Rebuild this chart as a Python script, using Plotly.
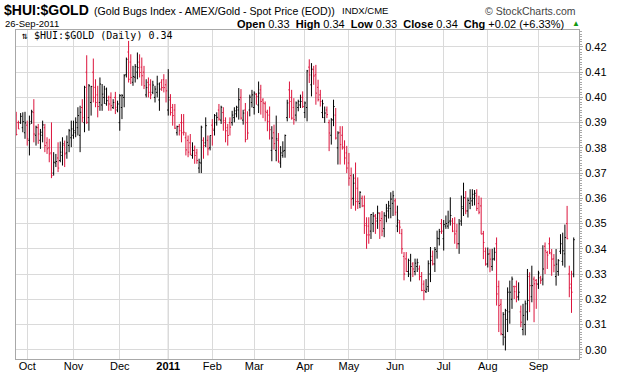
import pandas as pd
import plotly.graph_objects as go

# ---------------- data ----------------
holidays = ["2010-11-25", "2010-12-24", "2011-01-17", "2011-02-21",
            "2011-04-22", "2011-05-30", "2011-07-04", "2011-09-05"]

opens = [
    .3930, .3900, .3900, .3880, .3860,
    .3890, .3830, .3905, .3940, .3850, .3880, .3830, .3850, .3880, .3820, .3800, .3780, .3700, .3740, .3760, .3750, .3770, .3810, .3780, .3810, .3840,
    .3850, .3860, .3880, .3850, .3960, .3900, .4100, .3920, .3980, .4100, .4040, .4010, .3980, .3970, .4000, .3975, .4000, .4000, .3960, .4000, .3950,
    .3900, .3960, .4000, .4090, .4180, .4140, .4060, .4080, .4100, .4140, .4120, .4100, .4010, .4060, .4050, .4020, .4000, .4020, .3990, .4060, .4070, .4050,
    .3950, .3990, .3960, .3950, .3860, .3885, .3900, .3900, .3840, .3830, .3820, .3770, .3790, .3780, .3720, .3740, .3830, .3820, .3830, .3800,
    .3890, .3870, .3900, .3950, .3910, .3940, .3900, .3880, .3900, .3900, .3920, .3935, .3950, .4000, .3910, .3950, .3900, .3950, .3980,
    .3960, .4012, .3970, .4030, .3990, .3975, .3940, .3930, .3790, .3860, .3790, .3830, .3740, .3770, .3790, .3920, .4030, .4000, .3960, .3930, .3960, .3970, .4000,
    .3940, .3960, .4120, .4050, .4110, .4090, .4040, .4010, .3940, .3920, .3950, .3900, .3850, .3910, .3930, .3800, .3860, .3850, .3800, .3780,
    .3740, .3690, .3600, .3680, .3640, .3580, .3600, .3570, .3500, .3490, .3470, .3500, .3530, .3510, .3540, .3520, .3480, .3530, .3550, .3560, .3580,
    .3590, .3490, .3505, .3460, .3370, .3360, .3310, .3300, .3340, .3310, .3330, .3320, .3290, .3260, .3230, .3250, .3300, .3370, .3340, .3390, .3440, .3500,
    .3440, .3490, .3490, .3510, .3510, .3500, .3470, .3420, .3510, .3560, .3600, .3550, .3580, .3590, .3600, .3610, .3580, .3570, .3460, .3390,
    .3340, .3380, .3330, .3360, .3420, .3250, .3180, .3060, .3050, .3120, .3150, .3200, .3250, .3250, .3210, .3150, .3080, .3100, .3150, .3290, .3210, .3280, .3275,
    .3260, .3285, .3280, .3410, .3385, .3420, .3380, .3360, .3290, .3310, .3390, .3350, .3380, .3500, .3300, .3260, .3300,
]
highs = [
    .3943, .3908, .3938, .3941, .3943,
    .3908, .3928, .3951, .3993, .3888, .3895, .3875, .3908, .3895, .3842, .3836, .3901, .3783, .3776, .3822, .3825, .3842, .3829, .3849, .3875, .3908,
    .3908, .3921, .3961, .3967, .3993, .4046, .4167, .4053, .4046, .4154, .4072, .4046, .4079, .4053, .4046, .4039, .4007, .4020, .3993, .4022, .3987,
    .4013, .4013, .4092, .4158, .4224, .4171, .4125, .4132, .4178, .4171, .4158, .4125, .4072, .4079, .4072, .4066, .4046, .4086, .4059, .4072, .4092, .4072,
    .4112, .4013, .3974, .3974, .3888, .3895, .3934, .3934, .3862, .3849, .3855, .3822, .3809, .3796, .3757, .3888, .3842, .3921, .3849, .3849,
    .3914, .3934, .3941, .3974, .3967, .3961, .3921, .3895, .3921, .3947, .3961, .3967, .4037, .4033, .3951, .3978, .3945, .4011, .4030,
    .4024, .4017, .4063, .4050, .3997, .3984, .3951, .3964, .3886, .3892, .3928, .3859, .3807, .3826, .3853, .3991, .4063, .4030, .3997, .3984, .3991, .4011, .4024,
    .3984, .4109, .4151, .4136, .4125, .4129, .4070, .4030, .3991, .3964, .3964, .3912, .3918, .3991, .3958, .3866, .3886, .3886, .3830, .3808,
    .3780, .3722, .3696, .3742, .3683, .3628, .3611, .3611, .3525, .3525, .3538, .3545, .3538, .3571, .3545, .3550, .3545, .3578, .3590, .3624, .3630,
    .3600, .3571, .3514, .3479, .3387, .3387, .3361, .3380, .3347, .3361, .3361, .3334, .3308, .3275, .3280, .3354, .3407, .3393, .3407, .3472, .3479, .3518,
    .3514, .3532, .3551, .3604, .3522, .3525, .3499, .3518, .3611, .3662, .3629, .3603, .3636, .3636, .3633, .3636, .3610, .3603, .3471, .3405,
    .3405, .3399, .3400, .3405, .3445, .3274, .3201, .3149, .3162, .3247, .3274, .3290, .3254, .3274, .3267, .3175, .3182, .3195, .3320, .3307, .3333, .3290, .3280,
    .3313, .3293, .3414, .3425, .3392, .3445, .3399, .3379, .3399, .3359, .3458, .3464, .3496, .3570, .3333, .3313, .3445,
]
lows = [
    .3849, .3875, .3895, .3862, .3836,
    .3809, .3770, .3895, .3822, .3809, .3816, .3796, .3822, .3783, .3776, .3743, .3680, .3690, .3724, .3704, .3743, .3730, .3724, .3757, .3783, .3803,
    .3836, .3842, .3849, .3783, .3901, .3862, .3895, .3868, .3928, .3980, .3961, .3921, .3947, .3947, .3974, .3967, .3947, .3947, .3954, .3934, .3941,
    .3868, .3914, .3961, .4079, .4059, .4053, .4046, .4059, .4072, .4079, .4046, .4033, .4000, .4000, .3993, .4013, .3980, .4000, .3947, .4026, .4020, .3980,
    .3928, .3928, .3888, .3875, .3849, .3849, .3822, .3849, .3770, .3763, .3770, .3757, .3737, .3737, .3700, .3700, .3757, .3803, .3770, .3790,
    .3809, .3849, .3888, .3908, .3895, .3868, .3822, .3809, .3849, .3888, .3901, .3921, .3912, .3912, .3892, .3822, .3833, .3925, .3960,
    .3932, .3971, .3938, .3932, .3918, .3905, .3866, .3833, .3747, .3793, .3747, .3741, .3721, .3761, .3761, .3905, .3918, .3912, .3892, .3905, .3945, .3958, .3958,
    .3918, .3905, .4057, .4004, .4050, .3971, .3984, .3964, .3918, .3899, .3918, .3787, .3813, .3886, .3833, .3734, .3734, .3793, .3734, .3700,
    .3650, .3558, .3571, .3551, .3558, .3561, .3565, .3459, .3400, .3420, .3439, .3466, .3459, .3479, .3439, .3450, .3446, .3505, .3520, .3521, .3530,
    .3532, .3466, .3459, .3380, .3275, .3308, .3288, .3270, .3288, .3295, .3308, .3275, .3232, .3196, .3225, .3229, .3268, .3334, .3308, .3361, .3413, .3459,
    .3393, .3479, .3479, .3492, .3466, .3420, .3400, .3380, .3491, .3530, .3537, .3524, .3557, .3570, .3572, .3550, .3537, .3458, .3359, .3333,
    .3326, .3307, .3313, .3353, .3175, .3070, .3057, .3017, .2997, .3070, .3103, .3162, .3201, .3188, .3195, .3089, .3057, .3057, .3116, .3149, .3188, .3109, .3162,
    .3241, .3261, .3255, .3300, .3320, .3379, .3293, .3307, .3254, .3293, .3379, .3333, .3326, .3438, .3208, .3146, .3287,
]
closes = [
    .3853, .3875, .3925, .3904, .3899,
    .3836, .3895, .3943, .3855, .3882, .3855, .3862, .3891, .3809, .3796, .3776, .3690, .3743, .3746, .3720, .3783, .3816, .3776, .3822, .3868, .3875,
    .3868, .3901, .3928, .3941, .3920, .4040, .3901, .4046, .4043, .4000, .3980, .3964, .4053, .4013, .4033, .3987, .3974, .3967, .3980, .3961, .3974,
    .4007, .4007, .4086, .4151, .4072, .4079, .4083, .4122, .4118, .4099, .4086, .4046, .4039, .4020, .4010, .4049, .4033, .4053, .4033, .4039, .4039, .4026,
    .4000, .3940, .3928, .3878, .3884, .3868, .3860, .3862, .3792, .3783, .3775, .3790, .3770, .3750, .3743, .3882, .3809, .3888, .3796, .3849,
    .3875, .3928, .3921, .3914, .3961, .3908, .3868, .3849, .3882, .3930, .3947, .3961, .3991, .3918, .3938, .3833, .3859, .4001, .4010,
    .4017, .4004, .4017, .3984, .3978, .3945, .3905, .3872, .3839, .3817, .3836, .3747, .3780, .3787, .3849, .3978, .3984, .3918, .3912, .3978, .3984, .3984, .3964,
    .3978, .4105, .4089, .4112, .4085, .4017, .3991, .3984, .3975, .3938, .3932, .3859, .3912, .3964, .3839, .3859, .3813, .3804, .3760, .3720,
    .3680, .3597, .3660, .3587, .3587, .3624, .3570, .3492, .3455, .3455, .3536, .3530, .3521, .3542, .3512, .3470, .3532, .3561, .3570, .3597, .3610,
    .3545, .3514, .3486, .3400, .3300, .3310, .3354, .3330, .3320, .3343, .3345, .3290, .3235, .3235, .3240, .3341, .3354, .3340, .3397, .3442, .3468, .3470,
    .3496, .3500, .3505, .3532, .3470, .3459, .3420, .3499, .3567, .3603, .3550, .3592, .3600, .3616, .3620, .3560, .3545, .3458, .3425, .3339,
    .3379, .3359, .3359, .3386, .3221, .3175, .3063, .3140, .3155, .3228, .3228, .3280, .3230, .3208, .3228, .3109, .3136, .3182, .3195, .3254, .3254, .3261, .3261,
    .3304, .3275, .3320, .3392, .3375, .3385, .3359, .3335, .3339, .3353, .3420, .3392, .3445, .3440, .3245, .3228, .3436,
]

month_names = ["Jan", "Feb", "Mar", "Apr", "May", "Jun",
               "Jul", "Aug", "Sep", "Oct", "Nov", "Dec"]
y_ticks = [0.30, 0.31, 0.32, 0.33, 0.34, 0.35, 0.36, 0.37, 0.38, 0.39, 0.40, 0.41, 0.42]

# trading days
days = [d for d in pd.bdate_range("2010-09-24", "2011-09-26")
        if d.strftime("%Y-%m-%d") not in holidays]
dates = [d.strftime("%Y-%m-%d") for d in days]
n = min(len(dates), len(closes))
dates = dates[:n]

tickvals, ticktext = [], []
for k in range(1, n):
    if days[k].month != days[k - 1].month:
        tickvals.append(dates[k])
        if days[k].month == 1:
            ticktext.append("<b>%d</b>" % days[k].year)
        else:
            ticktext.append(month_names[days[k].month - 1])
jan_idx = [k for k in range(1, n) if days[k].month == 1 and days[k - 1].month == 12][0]

# ---------------- figure ----------------
W, H = 620, 376
L, R, T, B = 16, 579, 30, 359
fig = go.Figure()
fig.add_trace(go.Ohlc(
    x=dates, open=opens[:n], high=highs[:n], low=lows[:n], close=closes[:n],
    increasing=dict(line=dict(color="#000000", width=1)),
    decreasing=dict(line=dict(color="#DC143C", width=1)),
    tickwidth=0.5, hoverinfo="skip", showlegend=False,
))

def px(x):
    return (x - L) / (R - L)

def py(y):
    return (B - y) / (B - T)

grid = "#dadada"
axis_c = "#a8a8a8"
base_font = "Liberation Sans, Arial, sans-serif"

fig.update_layout(
    width=W, height=H,
    margin=dict(l=L, r=W - R, t=T, b=H - B, pad=0, autoexpand=False),
    paper_bgcolor="white", plot_bgcolor="white",
    font=dict(family=base_font, size=11, color="#000"),
    xaxis=dict(
        type="category", range=[-0.09, 255.4], automargin=False,
        tickvals=tickvals, ticktext=ticktext,
        showgrid=True, gridcolor=grid, gridwidth=1,
        showline=True, linecolor=axis_c, mirror=True,
        ticks="", ticklabelstandoff=-3,
        tickfont=dict(size=11, family=base_font, color="#000"),
        rangeslider=dict(visible=False), fixedrange=True,
    ),
    yaxis=dict(
        side="right", range=[0.29632, 0.42672], automargin=False,
        tickvals=y_ticks, tickformat=".2f",
        showgrid=True, gridcolor=grid, gridwidth=1,
        showline=True, linecolor=axis_c, mirror=True,
        ticks="outside", ticklen=3, tickcolor=axis_c,
        minor=dict(dtick=0.001, ticks="outside", ticklen=2, tickcolor=axis_c, showgrid=False),
        tickfont=dict(size=11, family=base_font, color="#000"),
        zeroline=False, fixedrange=True,
    ),
    shapes=[dict(type="line", xref="x", yref="paper", x0=jan_idx, x1=jan_idx,
                 y0=0, y1=1, line=dict(color="#b4b4b4", width=1), layer="below")],
)

def note(text, x, y, size, anchor="left", family=base_font, color="#000"):
    fig.add_annotation(text=text, x=px(x), y=py(y), xref="paper", yref="paper",
                       xanchor=anchor, yanchor="middle", showarrow=False,
                       font=dict(size=size, family=family, color=color))

note("<b>$HUI:$GOLD</b>", 2, 10, 14)
note("(Gold Bugs Index - AMEX/Gold - Spot Price (EOD))", 92, 11, 10.6)
note("INDX/CME", 340, 11, 9.5)
note("© StockCharts.com", 578, 11, 10.5, anchor="right", color="#444")
note("26-Sep-2011", 3, 24, 9.5)
note("<b>Open</b> 0.33  <b>High</b> 0.34  <b>Low</b> 0.33  <b>Close</b> 0.34  <b>Chg</b> +0.02 (+6.33%)",
     566, 24, 11, anchor="right")
note("▲", 570, 24, 8, color="#119911")
note("⇅ $HUI:$GOLD (Daily) 0.34", 19, 36, 10,
     family="DejaVu Sans Mono, monospace")

fig.write_html(
    "out.html",
    config={"displayModeBar": False, "staticPlot": True},
    post_script=("document.documentElement.style.overflow='hidden';"
                 "document.body.style.margin='0px';"
                 "document.body.style.overflow='hidden';"),
)
